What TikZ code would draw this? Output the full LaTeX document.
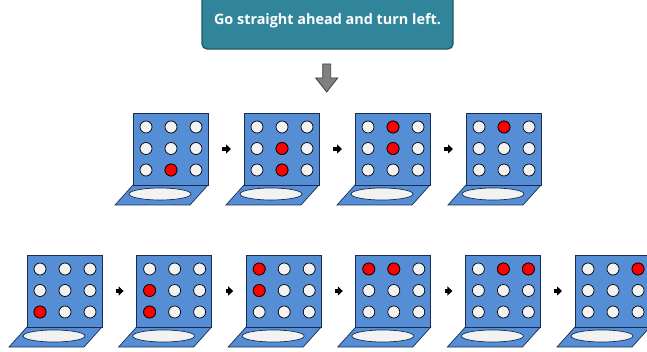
\documentclass[tikz,border=0pt]{standalone}
\usepackage{fontspec}
\setsansfont{Open Sans}
\usepackage{xcolor}
\usetikzlibrary{arrows.meta}

\definecolor{boxteal}{RGB}{49,133,155}
\definecolor{boxedge}{RGB}{30,84,99}
\definecolor{panelblue}{RGB}{85,142,213}
\definecolor{paneledge}{RGB}{25,45,80}
\definecolor{holegray}{RGB}{242,242,242}
\definecolor{downgray}{RGB}{128,128,128}

% one panel: name, left x, top y, red cells (col/row)
\newcommand{\dialpanel}[4]{%
  \draw[panel] (#2,#3+72) -- (#2+75,#3+72) -- (#2+57,#3+92) -- (#2-18,#3+92) -- cycle;
  \node[panel, minimum width=75pt, minimum height=72pt, anchor=north west] (#1) at (#2,#3) {};
  \draw[hole] (#2+27,#3+81) ellipse [x radius=31, y radius=6];
  \foreach \c in {1,2,3}
    \foreach \r in {1,2,3}
      \draw[dot] ({#2+13+25*(\c-1)},{#3+14+21.5*(\r-1)}) circle [radius=6];
  \foreach \c/\r in {#4}
    \draw[dot, fill=red] ({#2+13+25*(\c-1)},{#3+14+21.5*(\r-1)}) circle [radius=6];
}

\begin{document}
\begin{tikzpicture}[
        x=1pt, y=-1pt,
        panel/.style={draw=paneledge, fill=panelblue, line width=0.7pt, inner sep=0pt, outer sep=0pt},
        hole/.style={draw=paneledge, fill=holegray, line width=0.7pt},
        dot/.style={draw=black, fill=holegray, line width=0.7pt},
        title/.style={draw=boxedge, fill=boxteal, line width=1.2pt, rounded corners=5pt, text=white,
                      font=\sffamily\bfseries\fontsize{14.4}{16}\selectfont, minimum width=251pt, minimum height=56pt},
        steparrow/.style={line width=3.5pt, -{Triangle[length=5pt, width=9pt]}, shorten <=14pt, shorten >=13pt}
    ]
        \useasboundingbox (0,0) rectangle (647,352);

        \node[title] (task) at (327.5,21) {Go straight ahead and turn left.};

        % down arrow
        \draw[draw=black!75, fill=downgray, line width=0.8pt]
            (322.7,64) -- (330.7,64) -- (330.7,78) -- (337.7,78) -- (326.7,92)
            -- (315.7,78) -- (322.7,78) -- cycle;

        % top row
        \dialpanel{p1}{133}{113}{2/3}
        \dialpanel{p2}{244}{113}{2/2, 2/3}
        \dialpanel{p3}{355}{113}{2/1, 2/2}
        \dialpanel{p4}{466}{113}{2/1}

        \draw[steparrow] (p1) -- (p2);
        \draw[steparrow] (p2) -- (p3);
        \draw[steparrow] (p3) -- (p4);

        % bottom row
        \dialpanel{q1}{27}{255}{1/3}
        \dialpanel{q2}{136.6}{255}{1/2, 1/3}
        \dialpanel{q3}{246.2}{255}{1/1, 1/2}
        \dialpanel{q4}{355.8}{255}{1/1, 2/1}
        \dialpanel{q5}{465.4}{255}{2/1, 3/1}
        \dialpanel{q6}{575}{255}{3/1}

        \draw[steparrow] (q1) -- (q2);
        \draw[steparrow] (q2) -- (q3);
        \draw[steparrow] (q3) -- (q4);
        \draw[steparrow] (q4) -- (q5);
        \draw[steparrow] (q5) -- (q6);
    \end{tikzpicture}
\end{document}
